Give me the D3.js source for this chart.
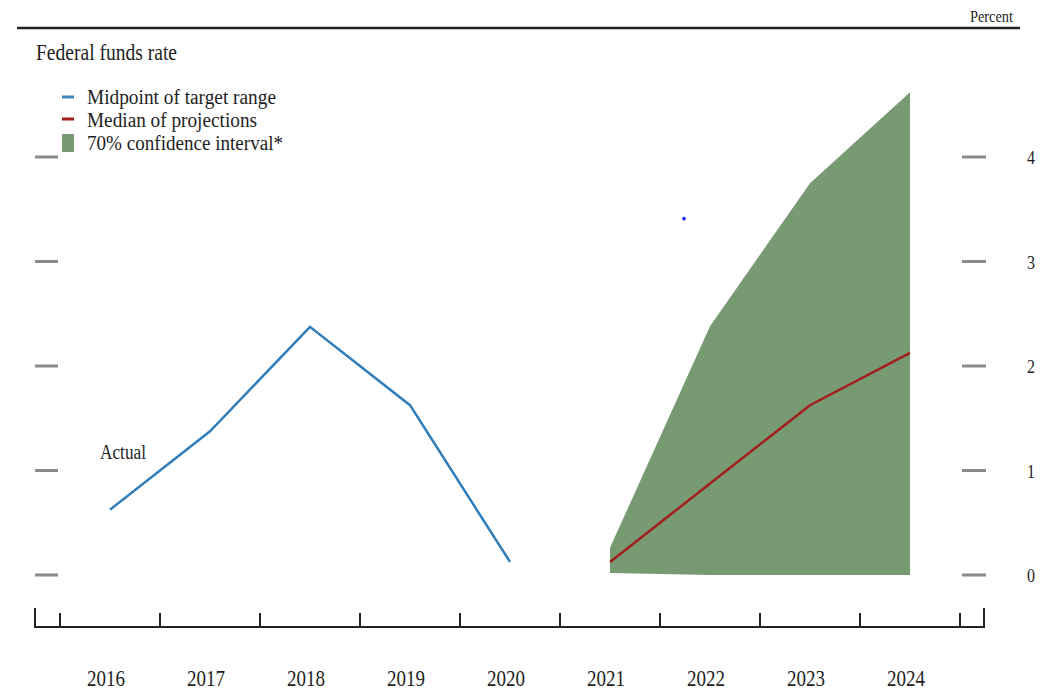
<!DOCTYPE html>
<html><head><meta charset="utf-8">
<script src="https://cdn.jsdelivr.net/npm/d3@7"></script>
<style>body{margin:0;background:#fff;}svg{display:block;}</style>
</head><body>
<svg id="c" width="1046" height="692"></svg>
<script>
const years = [2016, 2017, 2018, 2019, 2020, 2021, 2022, 2023, 2024];
const actualYears = [2016, 2017, 2018, 2019, 2020];
const actualValues = [0.625, 1.375, 2.375, 1.625, 0.125];
const projYears = [2021, 2022, 2023, 2024];
const medianValues = [0.125, 0.875, 1.625, 2.125];
const ciUpper = [0.26, 2.38, 3.75, 4.62];
const ciLower = [0.02, 0, 0, 0];
const yTicks = [0, 1, 2, 3, 4];
const strayPoint = [{year: 2021.74, value: 3.41}];
const legendItems = ["Midpoint of target range", "Median of projections", "70% confidence interval*"];

const svg = d3.select("#c");
const x = d3.scaleLinear().domain([2015.5, 2024.5]).range([60, 960]);
const y = d3.scaleLinear().domain([0, 4]).range([575, 157]);
const font = "'Liberation Serif', 'Times New Roman', serif";
const ink = "#1e1e1e";

function txt(px, py, str, size, width, anchor) {
  const t = svg.append("text").attr("x", px).attr("y", py)
    .attr("font-family", font).attr("font-size", size).attr("fill", ink)
    .attr("text-anchor", anchor || "start").text(str);
  if (width) t.attr("textLength", width).attr("lengthAdjust", "spacingAndGlyphs");
  return t;
}

// top rule
svg.append("line").attr("x1", 17).attr("x2", 1020).attr("y1", 28).attr("y2", 28)
  .attr("stroke", "#222").attr("stroke-width", 2.5);
txt(970, 22, "Percent", 16, 43);
txt(36, 60, "Federal funds rate", 23, 141);

// legend
const lg = [{c: "#3a86bd", t: "line"}, {c: "#a31d1d", t: "line"}, {c: "#789a73", t: "rect"}];
const legY = [97, 119, 142];
const legBase = [104, 127, 150];
const legW = [189, 170, 196];
lg.forEach((d, i) => {
  if (d.t === "line") {
    svg.append("line").attr("x1", 62).attr("x2", 74).attr("y1", legY[i]).attr("y2", legY[i])
      .attr("stroke", d.c).attr("stroke-width", 3);
  } else {
    svg.append("rect").attr("x", 62).attr("y", 134).attr("width", 12).attr("height", 18).attr("fill", d.c);
  }
  txt(87, legBase[i], legendItems[i], 20, legW[i]);
});

// y tick marks left and right
yTicks.forEach(v => {
  svg.append("line").attr("x1", 35).attr("x2", 58).attr("y1", y(v)).attr("y2", y(v))
    .attr("stroke", "#8a8a8a").attr("stroke-width", 3);
  svg.append("line").attr("x1", 962).attr("x2", 986).attr("y1", y(v)).attr("y2", y(v))
    .attr("stroke", "#8a8a8a").attr("stroke-width", 3);
  txt(1031, y(v) + 7, String(v), 19, 8, "middle");
});

// confidence area
const projData = projYears.map((yr, i) => ({year: yr, lo: ciLower[i], hi: ciUpper[i], med: medianValues[i]}));
svg.append("path").datum(projData)
  .attr("d", d3.area().x(d => x(d.year)).y0(d => y(d.lo)).y1(d => y(d.hi)))
  .attr("fill", "#789a73");

// median line
svg.append("path").datum(projData)
  .attr("d", d3.line().x(d => x(d.year)).y(d => y(d.med)))
  .attr("fill", "none").attr("stroke", "#a31d1d").attr("stroke-width", 2.5);

// actual line
const actData = actualYears.map((yr, i) => ({year: yr, v: actualValues[i]}));
svg.append("path").datum(actData)
  .attr("d", d3.line().x(d => x(d.year)).y(d => y(d.v)))
  .attr("fill", "none").attr("stroke", "#2f7dba").attr("stroke-width", 2.5);
txt(100, 459, "Actual", 20, 46);

// stray point
svg.selectAll(".sp").data(strayPoint).enter().append("circle")
  .attr("cx", d => x(d.year)).attr("cy", d => y(d.value)).attr("r", 1.8).attr("fill", "#1a1aff");

// x axis
const axisY = 627;
svg.append("path").attr("d", `M35,608V${axisY}H984V608`).attr("fill", "none")
  .attr("stroke", "#222").attr("stroke-width", 2);
const tickPos = years.map(v => v - 0.5).concat([2024.5]);
svg.selectAll(".xt").data(tickPos).enter().append("line")
  .attr("x1", d => x(d)).attr("x2", d => x(d)).attr("y1", 613).attr("y2", axisY)
  .attr("stroke", "#222").attr("stroke-width", 2);
years.forEach(v => txt(x(v) - 4, 686, String(v), 23, 38, "middle"));
</script>
</body></html>
